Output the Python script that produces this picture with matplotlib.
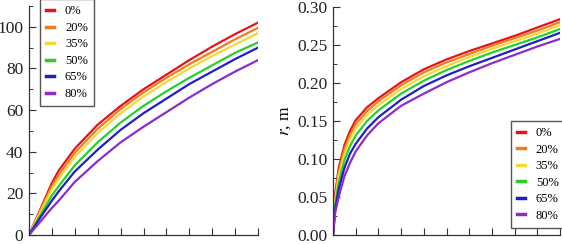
import matplotlib
matplotlib.use("Agg")
import matplotlib.pyplot as plt
from matplotlib.ticker import MultipleLocator, NullFormatter, FormatStrFormatter

plt.rcParams["font.family"] = ["Liberation Serif", "DejaVu Serif"]
plt.rcParams["mathtext.fontset"] = "stix"

LABELS = ["0%", "20%", "35%", "50%", "65%", "80%"]
COLORS = ["#e5141b", "#f07d22", "#f5d838", "#27cf27", "#1f1fc8", "#8b2ccc"]

# left panel (ylabel cropped in the original)
x_left = [0, 0.5, 1, 1.3, 2, 3, 4, 5, 6, 7, 8, 9, 10]
left_0 = [0, 12.5, 25, 31, 41.5, 53, 62, 70, 77, 84, 90.5, 96.5, 102]
left_20 = [0, 12, 23.5, 29, 39.5, 51, 60.5, 68.5, 75.5, 82, 88, 94, 99.5]
left_35 = [0, 11, 22, 27, 37.5, 49, 58.5, 66.5, 73.5, 80, 86, 91.5, 97]
left_50 = [0, 9.5, 19, 23.5, 33.5, 44.5, 54, 62, 69, 75.5, 81.5, 87.5, 92.5]
left_65 = [0, 8.5, 16.5, 21, 30.5, 41, 50.5, 58.5, 65.5, 72.5, 78.5, 84.5, 90]
left_80 = [0, 6.5, 13, 16.5, 25.5, 35.5, 44.5, 52, 59, 66, 72.5, 78.5, 84]

# right panel: r, m
x_right = [0, 0.1, 0.25, 0.5, 0.75, 1, 1.5, 2, 3, 4, 5, 6, 7, 8, 9, 10]
r_0 = [0, .055, .088, .118, .137, .151, .168, .180, .201, .218, .231, .242, .252, .262, .273, .284]
r_20 = [0, .050, .083, .113, .132, .146, .163, .176, .197, .214, .227, .238, .249, .259, .269, .280]
r_35 = [0, .045, .077, .107, .126, .140, .158, .171, .192, .209, .222, .234, .245, .255, .265, .276]
r_50 = [0, .040, .068, .098, .117, .131, .150, .164, .186, .203, .217, .229, .240, .250, .260, .271]
r_65 = [0, .035, .060, .088, .107, .120, .140, .155, .178, .196, .210, .222, .233, .244, .255, .266]
r_80 = [0, .030, .050, .077, .095, .110, .131, .147, .170, .186, .201, .214, .226, .237, .248, .258]

W, H = 562, 244
fig = plt.figure(figsize=(W / 100, H / 100), dpi=100)
ax1 = fig.add_axes([29 / W, 9 / H, 229 / W, 229 / H])
ax2 = fig.add_axes([333 / W, 9 / H, 227 / W, 228 / H])


def style(ax):
    for s in ("top", "right"):
        ax.spines[s].set_visible(False)
    for s in ("left", "bottom"):
        ax.spines[s].set_linewidth(0.9)
        ax.spines[s].set_color("#333333")
    ax.tick_params(which="both", direction="in", colors="#333333", labelcolor="#222222",
                   labelsize=12.5, pad=4)
    ax.tick_params(which="major", length=5, width=0.8)
    ax.tick_params(which="minor", length=3, width=0.7)
    ax.xaxis.set_major_locator(MultipleLocator(1))
    ax.xaxis.set_major_formatter(NullFormatter())
    ax.set_xlim(0, 10)


for y, c, lab in zip([left_0, left_20, left_35, left_50, left_65, left_80], COLORS, LABELS):
    ax1.plot(x_left, y, color=c, lw=1.6, label=lab)
style(ax1)
ax1.set_ylim(0, 110)
ax1.yaxis.set_major_locator(MultipleLocator(20))
ax1.yaxis.set_minor_locator(MultipleLocator(10))

for y, c, lab in zip([r_0, r_20, r_35, r_50, r_65, r_80], COLORS, LABELS):
    ax2.plot(x_right, y, color=c, lw=1.6, label=lab)
style(ax2)
ax2.set_ylim(0, 0.30)
ax2.yaxis.set_major_locator(MultipleLocator(0.05))
ax2.yaxis.set_minor_locator(MultipleLocator(0.025))
ax2.yaxis.set_major_formatter(FormatStrFormatter("%.2f"))
ax2.set_ylabel("$r$, m", fontsize=12.5, labelpad=3)

leg_kw = dict(fontsize=9, handlelength=0.6, handletextpad=0.9, labelspacing=0.36,
              fancybox=False, edgecolor="#555555", framealpha=1, borderpad=0.5,
              borderaxespad=0)
l1 = ax1.legend(loc="upper left", bbox_to_anchor=(0.048, 1.03), **leg_kw)
l2 = ax2.legend(loc="lower right", bbox_to_anchor=(1.022, 0.031), **leg_kw)
for lg in (l1, l2):
    lg.get_frame().set_linewidth(1.0)
    for h in lg.get_lines():
        h.set_linewidth(2.5)

fig.savefig("out.png", dpi=100)
